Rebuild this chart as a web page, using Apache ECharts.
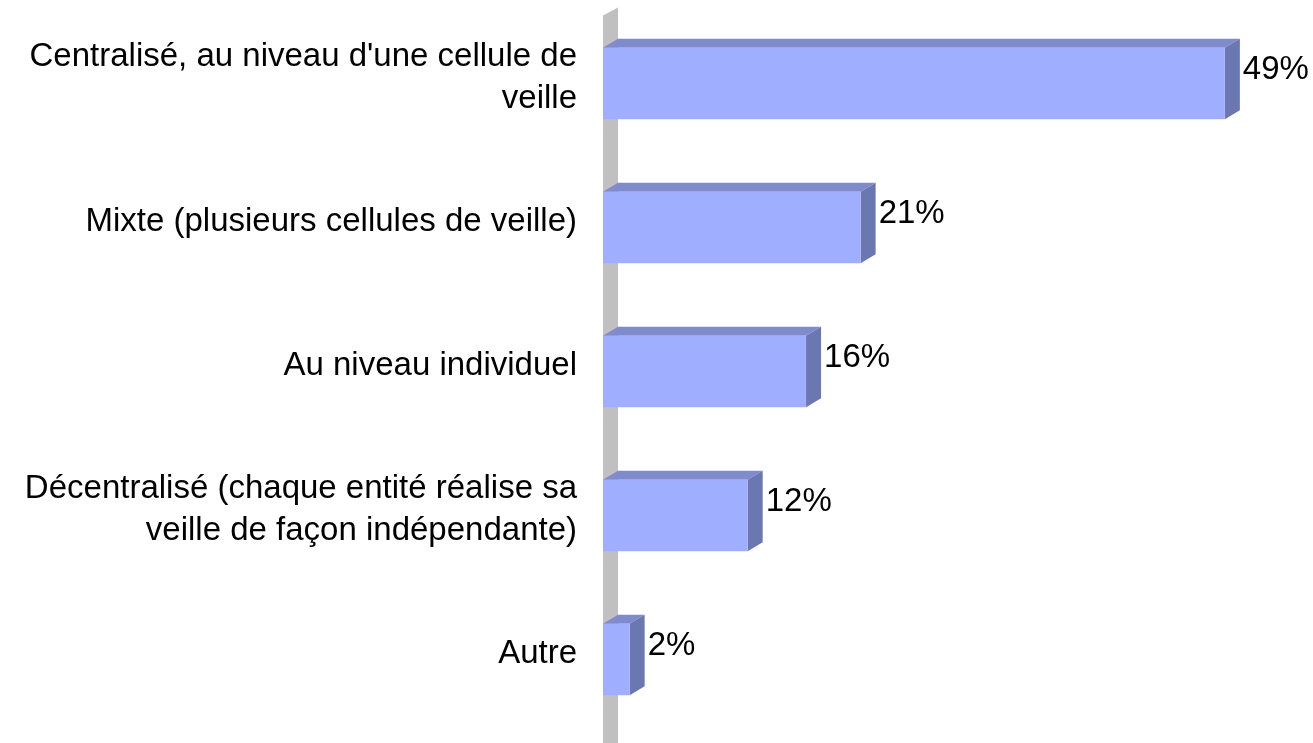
<!DOCTYPE html>
<html>
<head>
<meta charset="utf-8">
<script src="https://cdn.jsdelivr.net/npm/echarts@6/dist/echarts.min.js"></script>
<style>
  html, body { margin: 0; padding: 0; background: #fff; }
  #chart { width: 1313px; height: 743px; }
</style>
</head>
<body>
<div id="chart"></div>
<script>
const categories = [
  "Centralisé, au niveau d'une cellule de\nveille",
  "Mixte (plusieurs cellules de veille)",
  "Au niveau individuel",
  "Décentralisé (chaque entité réalise sa\nveille de façon indépendante)",
  "Autre"
];
const values = [49, 20.3, 16, 11.4, 2.1];
const valueLabels = ['49%', '21%', '16%', '12%', '2%'];

// 3D look: depth offset of the bars and of the back wall
const DX = 15;
const DY = 9;
const FRONT = '#a0aeff';
const TOP = '#7f8bcc';
const SIDE = '#6b77b0';
const WALL = '#c0c0c0';

const chart = echarts.init(document.getElementById('chart'));

function renderBar(params, api) {
  const cat = api.value(0);
  const val = api.value(1);
  const start = api.coord([0, cat]);
  const end = api.coord([val, cat]);
  const h = api.size([0, 1])[1] * 0.495;
  const x0 = start[0];
  const x1 = end[0];
  const y0 = end[1] - h / 2;
  const y1 = end[1] + h / 2;
  const children = [];
  if (params.dataIndex === 0) {
    const cs = params.coordSys;
    children.push({
      type: 'polygon',
      shape: { points: [[x0, cs.y + 4], [x0 + DX, cs.y - 4], [x0 + DX, cs.y + cs.height + 20], [x0, cs.y + cs.height + 20]] },
      style: { fill: WALL }
    });
  }
  children.push(
    {
      type: 'polygon',
      shape: { points: [[x0, y0], [x1, y0], [x1 + DX, y0 - DY], [x0 + DX, y0 - DY]] },
      style: { fill: TOP }
    },
    {
      type: 'polygon',
      shape: { points: [[x1, y0], [x1 + DX, y0 - DY], [x1 + DX, y1 - DY], [x1, y1]] },
      style: { fill: SIDE }
    },
    {
      type: 'rect',
      shape: { x: x0, y: y0, width: x1 - x0, height: y1 - y0 },
      style: { fill: FRONT }
    },
    {
      type: 'text',
      x: x1 + DX + 3,
      y: end[1] - 14,
      style: {
        text: valueLabels[params.dataIndex],
        fill: '#000',
        font: '33px "Liberation Sans", Arial, sans-serif',
        verticalAlign: 'middle',
        align: 'left'
      }
    }
  );
  return { type: 'group', children: children };
}

chart.setOption({
  animation: false,
  backgroundColor: '#fff',
  grid: { left: 603, right: 12, top: 11.5, bottom: 11.5 },
  xAxis: {
    type: 'value',
    min: 0,
    max: 55,
    show: false
  },
  yAxis: {
    type: 'category',
    inverse: true,
    data: categories,
    axisLine: { show: false },
    axisTick: { show: false },
    axisLabel: {
      margin: 26,
      color: '#000',
      fontSize: 33,
      fontFamily: '"Liberation Sans", Arial, sans-serif',
      lineHeight: 42,
      align: 'right',
      // empty spacer line lifts the label slightly above the band centre
      formatter: v => v + '\n{s|}',
      rich: { s: { height: 12, lineHeight: 12, fontSize: 1 } }
    }
  },
  series: [{
    type: 'custom',
    renderItem: renderBar,
    encode: { x: 1, y: 0 },
    data: values.map((v, i) => [i, v])
  }]
});
</script>
</body>
</html>
